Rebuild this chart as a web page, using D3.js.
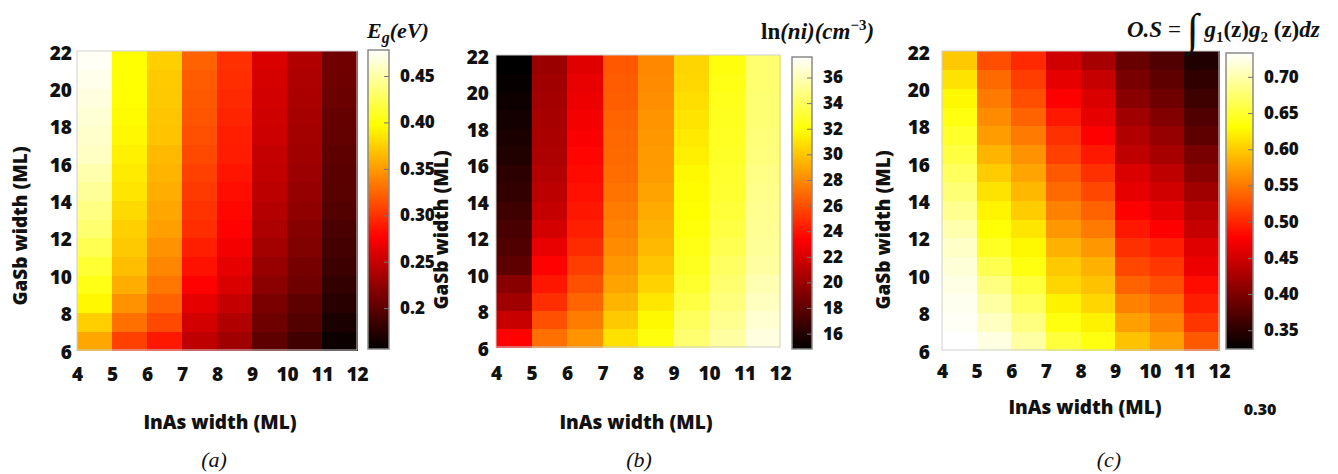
<!DOCTYPE html>
<html>
<head>
<meta charset="utf-8">
<script src="https://cdn.jsdelivr.net/npm/d3@7"></script>
<style>
  body { margin: 0; background: #fff; }
  svg text { fill: #111; }
  .tick text { font-family: "Open Sans", "Noto Sans", sans-serif; font-weight: 800; }
  .ttl { font-family: "Open Sans", "Noto Sans", sans-serif; font-weight: 800; font-size: 19px; }
  .math { font-family: "Liberation Serif", "DejaVu Serif", serif; font-weight: bold; font-style: italic; }
  .cap { font-family: "Liberation Serif", "DejaVu Serif", serif; font-style: italic; font-size: 22px; }
</style>
</head>
<body>
<svg id="viz"></svg>
<script>
// column edges (InAs, ML) and row edges (GaSb, ML)
var inas = [4, 5, 6, 7, 8, 9, 10, 11, 12];
var gasb = [6, 7, 8, 9, 10, 11, 12, 13, 14, 15, 16, 17, 18, 19, 20, 21, 22];

// one array per InAs column, values from GaSb 6-7 up to 21-22
var egap = [
  [0.356, 0.375, 0.394, 0.404, 0.414, 0.423, 0.433, 0.439, 0.446, 0.452, 0.459, 0.462, 0.465, 0.468, 0.472, 0.475],
  [0.307, 0.330, 0.346, 0.359, 0.367, 0.372, 0.375, 0.380, 0.385, 0.388, 0.391, 0.394, 0.396, 0.398, 0.398, 0.398],
  [0.288, 0.311, 0.323, 0.333, 0.340, 0.346, 0.352, 0.356, 0.359, 0.362, 0.365, 0.369, 0.370, 0.372, 0.373, 0.375],
  [0.246, 0.256, 0.265, 0.277, 0.285, 0.291, 0.298, 0.301, 0.304, 0.307, 0.311, 0.314, 0.317, 0.319, 0.320, 0.323],
  [0.232, 0.240, 0.249, 0.259, 0.265, 0.272, 0.277, 0.280, 0.283, 0.286, 0.290, 0.291, 0.294, 0.296, 0.298, 0.299],
  [0.201, 0.208, 0.214, 0.222, 0.228, 0.233, 0.238, 0.241, 0.245, 0.248, 0.249, 0.253, 0.254, 0.256, 0.257, 0.259],
  [0.187, 0.195, 0.201, 0.208, 0.212, 0.217, 0.220, 0.224, 0.227, 0.230, 0.232, 0.233, 0.235, 0.237, 0.238, 0.240],
  [0.162, 0.169, 0.175, 0.180, 0.185, 0.188, 0.191, 0.195, 0.198, 0.199, 0.201, 0.203, 0.204, 0.206, 0.208, 0.209]
];
var lnni = [
  [23.4, 21.5, 20.2, 19.4, 18.0, 17.5, 17.2, 16.9, 16.5, 16.3, 15.9, 15.7, 15.5, 15.3, 15.0, 14.8],
  [27.1, 26.0, 24.9, 24.1, 23.4, 22.6, 21.9, 21.4, 21.1, 20.8, 20.6, 20.5, 20.4, 20.3, 20.2, 20.0],
  [28.3, 27.5, 26.7, 26.0, 25.4, 24.8, 24.4, 24.1, 23.9, 23.7, 23.5, 23.2, 23.0, 22.8, 22.6, 22.3],
  [30.9, 30.1, 29.4, 28.8, 28.4, 28.0, 27.7, 27.5, 27.2, 27.0, 26.9, 26.8, 26.7, 26.5, 26.4, 26.3],
  [32.2, 31.7, 31.1, 30.4, 30.0, 29.6, 29.3, 29.1, 28.8, 28.6, 28.5, 28.4, 28.3, 28.1, 28.0, 27.9],
  [34.4, 34.0, 33.4, 32.9, 32.6, 32.4, 32.1, 31.9, 31.8, 31.7, 31.4, 31.2, 31.0, 30.8, 30.6, 30.5],
  [35.5, 35.1, 34.7, 34.4, 34.1, 33.7, 33.4, 33.2, 33.0, 32.9, 32.8, 32.7, 32.6, 32.5, 32.4, 32.2],
  [36.9, 36.6, 36.2, 35.9, 35.5, 35.3, 35.2, 35.1, 35.0, 34.9, 34.7, 34.6, 34.5, 34.5, 34.4, 34.4]
];
var overlap = [
  [0.733, 0.729, 0.727, 0.723, 0.717, 0.711, 0.700, 0.688, 0.678, 0.668, 0.657, 0.647, 0.637, 0.627, 0.614, 0.598],
  [0.721, 0.708, 0.696, 0.682, 0.663, 0.645, 0.633, 0.625, 0.614, 0.600, 0.586, 0.571, 0.561, 0.551, 0.541, 0.524],
  [0.696, 0.682, 0.668, 0.655, 0.637, 0.627, 0.616, 0.600, 0.588, 0.576, 0.565, 0.551, 0.537, 0.524, 0.514, 0.502],
  [0.655, 0.637, 0.623, 0.606, 0.598, 0.584, 0.569, 0.555, 0.541, 0.531, 0.516, 0.506, 0.492, 0.477, 0.463, 0.449],
  [0.637, 0.623, 0.606, 0.594, 0.584, 0.569, 0.551, 0.537, 0.520, 0.506, 0.492, 0.477, 0.463, 0.455, 0.443, 0.424],
  [0.594, 0.573, 0.555, 0.537, 0.520, 0.506, 0.492, 0.477, 0.463, 0.455, 0.439, 0.430, 0.420, 0.406, 0.396, 0.387],
  [0.573, 0.555, 0.541, 0.524, 0.510, 0.496, 0.477, 0.463, 0.449, 0.439, 0.424, 0.414, 0.402, 0.391, 0.381, 0.372],
  [0.531, 0.510, 0.496, 0.484, 0.468, 0.459, 0.443, 0.434, 0.420, 0.406, 0.396, 0.381, 0.372, 0.362, 0.353, 0.343]
];

var xTicks = [4, 5, 6, 7, 8, 9, 10, 11, 12];
var yTicks = [6, 8, 10, 12, 14, 16, 18, 20, 22];
var egapRange = [0.156, 0.478];
var egapTicks = [0.2, 0.25, 0.3, 0.35, 0.4, 0.45];
var egapLabels = ["0.2", "0.25", "0.30", "0.35", "0.40", "0.45"];
var lnniRange = [14.8, 37.6];
var lnniTicks = [16, 18, 20, 22, 24, 26, 28, 30, 32, 34, 36];
var lnniLabels = ["16", "18", "20", "22", "24", "26", "28", "30", "32", "34", "36"];
var overlapRange = [0.324, 0.733];
var overlapTicks = [0.35, 0.4, 0.45, 0.5, 0.55, 0.6, 0.65, 0.7];
var overlapLabels = ["0.35", "0.40", "0.45", "0.50", "0.55", "0.60", "0.65", "0.70"];

// matlab-like "hot" colormap
function hot(t) {
  var c = function(v) { return Math.max(0, Math.min(1, v)); };
  var r = c(t / 0.375), g = c((t - 0.375) / 0.375), b = c((t - 0.75) / 0.25);
  return d3.rgb(r * 255, g * 255, b * 255).toString();
}

var width = 1338, height = 474;
var svg = d3.select("#viz").attr("width", width).attr("height", height);
var defs = svg.append("defs");

var panels = [
  { id: "a", values: egap, range: egapRange, ticks: egapTicks, labels: egapLabels,
    plot: [77, 357, 51, 350], bar: [368, 389, 50, 349], yLabX: 20, yLabY: 226, xLabX: 220, xLabY: 422,
    xTickDy: 28, yTickPad: 5, cap: [214, 467] },
  { id: "b", values: lnni, range: lnniRange, ticks: lnniTicks, labels: lnniLabels,
    plot: [496, 780, 55, 347], bar: [792, 812, 57, 349], yLabX: 441, yLabY: 230, xLabX: 636, xLabY: 422,
    xTickDy: 30, yTickPad: 7, cap: [639, 467] },
  { id: "c", values: overlap, range: overlapRange, ticks: overlapTicks, labels: overlapLabels,
    plot: [942, 1219, 51, 350], bar: [1226, 1253, 53, 349], yLabX: 883, yLabY: 230, xLabX: 1085, xLabY: 407,
    xTickDy: 25, yTickPad: 12, cap: [1109, 467] }
];

panels.forEach(function(p) {
  var x = d3.scaleLinear().domain([4, 12]).range([p.plot[0], p.plot[1]]);
  var y = d3.scaleLinear().domain([6, 22]).range([p.plot[3], p.plot[2]]);
  var color = d3.scaleSequential(hot).domain(p.range);

  var cells = [];
  p.values.forEach(function(col, i) {
    col.forEach(function(v, j) {
      cells.push({ x0: inas[i], x1: inas[i + 1], y0: gasb[j], y1: gasb[j + 1], v: v });
    });
  });

  var g = svg.append("g");
  g.selectAll("rect.cell")
    .data(cells)
    .enter()
    .append("rect")
    .attr("class", "cell")
    .attr("x", function(d) { return x(d.x0); })
    .attr("y", function(d) { return y(d.y1); })
    .attr("width", function(d) { return x(d.x1) - x(d.x0) + 0.5; })
    .attr("height", function(d) { return y(d.y0) - y(d.y1) + 0.5; })
    .attr("fill", function(d) { return color(d.v); })
    .attr("shape-rendering", "crispEdges");

  g.append("rect")
    .attr("x", p.plot[0]).attr("y", p.plot[2])
    .attr("width", p.plot[1] - p.plot[0]).attr("height", p.plot[3] - p.plot[2])
    .attr("fill", "none").attr("stroke", "#cfcfcf").attr("stroke-width", 1);

  // axes
  var xa = g.append("g")
    .attr("transform", "translate(0," + p.plot[3] + ")")
    .call(d3.axisBottom(x).tickValues(xTicks).tickSize(0).tickPadding(p.xTickDy - 10));
  xa.select(".domain").remove();
  xa.selectAll("text").attr("font-size", 19);

  var ya = g.append("g")
    .attr("transform", "translate(" + p.plot[0] + ",2)")
    .call(d3.axisLeft(y).tickValues(yTicks).tickSize(0).tickPadding(p.yTickPad));
  ya.select(".domain").remove();
  ya.selectAll("text").attr("font-size", 19);

  g.append("text").attr("class", "ttl")
    .attr("x", p.xLabX).attr("y", p.xLabY).attr("dy", "0.35em")
    .attr("text-anchor", "middle").text("InAs width (ML)");
  g.append("text").attr("class", "ttl")
    .attr("transform", "translate(" + p.yLabX + "," + p.yLabY + ") rotate(-90)")
    .attr("dy", "0.35em").attr("text-anchor", "middle").text("GaSb width (ML)");

  // colorbar
  var gid = "grad-" + p.id;
  var grad = defs.append("linearGradient").attr("id", gid)
    .attr("x1", 0).attr("y1", 1).attr("x2", 0).attr("y2", 0);
  d3.range(0, 41).forEach(function(k) {
    grad.append("stop").attr("offset", k / 40).attr("stop-color", hot(k / 40));
  });
  var cb = d3.scaleLinear().domain(p.range).range([p.bar[3], p.bar[2]]);
  g.append("rect")
    .attr("x", p.bar[0]).attr("y", p.bar[2])
    .attr("width", p.bar[1] - p.bar[0]).attr("height", p.bar[3] - p.bar[2])
    .attr("fill", "url(#" + gid + ")").attr("stroke", "#8a8a8a").attr("stroke-width", 1.5);
  var ca = g.append("g")
    .attr("transform", "translate(" + p.bar[1] + ",0)")
    .call(d3.axisRight(cb).tickValues(p.ticks).tickSize(-5).tickPadding(11)
      .tickFormat(function(d, i) { return p.labels[i]; }));
  ca.select(".domain").remove();
  ca.selectAll("line").attr("stroke", "#777");
  ca.selectAll("text").attr("font-size", 17);

  g.append("text").attr("class", "cap")
    .attr("x", p.cap[0]).attr("y", p.cap[1]).attr("text-anchor", "middle")
    .text("(" + p.id + ")");
});

// colorbar titles
var t1 = svg.append("text").attr("class", "math").attr("x", 367).attr("y", 38).attr("font-size", 22);
t1.append("tspan").text("E");
t1.append("tspan").attr("dy", 5).attr("font-size", 16).text("g");
t1.append("tspan").attr("dy", -5).text("(eV)");

var t2 = svg.append("text").attr("class", "math").attr("x", 761).attr("y", 39).attr("font-size", 23);
t2.append("tspan").attr("font-style", "normal").text("ln");
t2.append("tspan").text("(ni)(cm");
t2.append("tspan").attr("dy", -9).attr("font-size", 15).attr("font-style", "normal").text("−3");
t2.append("tspan").attr("dy", 9).text(")");

var t3 = svg.append("text").attr("class", "math").attr("x", 1127).attr("y", 37).attr("font-size", 23);
t3.append("tspan").text("O.S");
t3.append("tspan").attr("font-style", "normal").attr("font-weight", "normal").text(" = ");
t3.append("tspan").attr("font-size", 44).attr("dy", 7).attr("font-weight", "normal").text("∫");
t3.append("tspan").attr("dy", -7).text(" g");
t3.append("tspan").attr("dy", 5).attr("font-size", 15).attr("font-style", "normal").text("1");
t3.append("tspan").attr("dy", -5).attr("font-style", "normal").text("(z)");
t3.append("tspan").text("g");
t3.append("tspan").attr("dy", 5).attr("font-size", 15).attr("font-style", "normal").text("2");
t3.append("tspan").attr("dy", -5).attr("font-style", "normal").text(" (z)");
t3.append("tspan").text("dz");

// stray colorbar label below panel (c)
svg.append("text").attr("x", 1260).attr("y", 409).attr("dy", "0.35em")
  .attr("text-anchor", "middle")
  .attr("font-family", "'Open Sans', sans-serif").attr("font-weight", 800).attr("font-size", 16)
  .text("0.30");
</script>
</body>
</html>
